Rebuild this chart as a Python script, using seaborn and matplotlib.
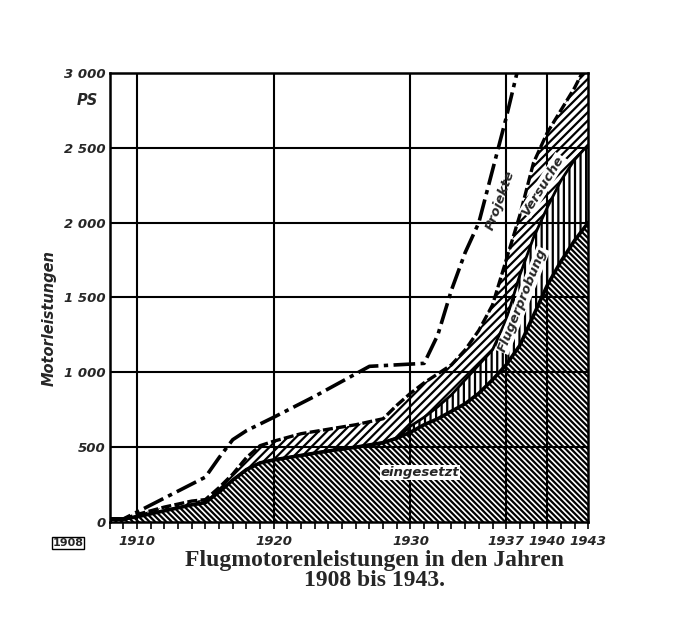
import numpy as np
import pandas as pd
import seaborn as sns
import matplotlib.pyplot as plt
from matplotlib.ticker import FixedLocator, MultipleLocator

# values (PS per year)
years = [1908, 1909, 1910, 1912, 1914, 1915, 1916, 1917, 1918, 1919, 1920, 1922, 1924, 1926, 1928,
         1929, 1930, 1931, 1932, 1933, 1934, 1935, 1936, 1937, 1938, 1939, 1940, 1941, 1942, 1943]
eingesetzt = [20, 20, 35, 75, 115, 130, 200, 280, 350, 395, 415, 445, 475, 500, 530,
              560, 600, 650, 690, 740, 790, 860, 950, 1050, 1180, 1380, 1580, 1740, 1880, 2000]
flugerprobung = [20, 20, 35, 75, 115, 130, 200, 280, 350, 395, 415, 445, 475, 500, 530,
                 560, 640, 700, 770, 850, 950, 1050, 1150, 1350, 1650, 1900, 2100, 2280, 2420, 2520]
versuche = [20, 20, 50, 100, 140, 150, 230, 320, 430, 510, 540, 590, 620, 650, 690,
            780, 860, 930, 990, 1050, 1150, 1280, 1450, 1750, 2050, 2400, 2600, 2750, 2900, 3080]

projekte_years = [1908, 1909, 1915, 1916, 1917, 1918, 1920, 1923, 1927, 1931, 1932, 1933, 1934, 1935, 1936, 1937, 1938]
projekte = [20, 20, 300, 430, 550, 610, 700, 840, 1040, 1060, 1250, 1550, 1800, 2000, 2350, 2700, 3080]

x_ticks = [1910, 1920, 1930, 1937, 1940, 1943]
y_ticks = [0, 500, 1000, 1500, 2000, 2500, 3000]
y_labels = ['0', '500', '1 000', '1 500', '2 000', '2 500', '3 000']

df = pd.DataFrame({'jahr': years, 'eingesetzt': eingesetzt,
                   'flugerprobung': flugerprobung, 'versuche': versuche})
df_p = pd.DataFrame({'jahr': projekte_years, 'projekte': projekte})

sns.set_style('white')
plt.rcParams['font.family'] = ['DejaVu Sans']
plt.rcParams['hatch.linewidth'] = 1.6
plt.rcParams['hatch.color'] = 'black'

BS = chr(92)  # backslash, for the hatch pattern

fig = plt.figure(figsize=(6.73, 6.37), dpi=100)
ax = fig.add_axes([0.163, 0.1805, 0.711, 0.705])

x = df['jahr']
# hatched bands
ax.fill_between(x, 0, df['eingesetzt'], facecolor='white', edgecolor='black',
                hatch=BS * 6, linewidth=0, zorder=2)
ax.fill_between(x, df['eingesetzt'], df['flugerprobung'], facecolor='white', edgecolor='black',
                hatch='|||', linewidth=0, zorder=2)
ax.fill_between(x, df['flugerprobung'], df['versuche'], facecolor='white', edgecolor='black',
                hatch='////', linewidth=0, zorder=2)

# grid drawn over the hatching, as printed
for gx in [1910, 1920, 1930, 1937, 1940]:
    ax.axvline(gx, color='black', lw=1.5, zorder=3)
for gy in [500, 1000, 1500, 2000, 2500]:
    ax.axhline(gy, color='black', lw=1.5, zorder=3)

sns.lineplot(data=df, x='jahr', y='eingesetzt', color='black', lw=2.6, ax=ax, zorder=4)
sns.lineplot(data=df, x='jahr', y='flugerprobung', color='black', lw=2.0, ax=ax, zorder=4)
sns.lineplot(data=df, x='jahr', y='versuche', color='black', lw=2.4, ax=ax, zorder=4,
             linestyle=(0, (3, 1)))
sns.lineplot(data=df_p, x='jahr', y='projekte', color='black', lw=2.6, ax=ax, zorder=4,
             linestyle=(0, (6, 1.5, 1.2, 1.5)))

ax.set_xlim(1908, 1943)
ax.set_ylim(0, 3000)

tick_font = dict(fontsize=9.5, fontweight='bold', fontstyle='italic')
ax.xaxis.set_major_locator(FixedLocator(x_ticks))
ax.xaxis.set_minor_locator(MultipleLocator(1))
ax.set_xticklabels([str(t) for t in x_ticks], **tick_font)
ax.set_yticks(y_ticks)
ax.set_yticklabels(y_labels, **tick_font)
ax.tick_params(axis='x', which='both', direction='out', length=5, width=1.4, bottom=True, pad=4)
ax.tick_params(axis='y', which='both', length=0, pad=3)

for s in ax.spines.values():
    s.set_visible(True)
    s.set_color('black')
    s.set_linewidth(1.8)

ax.set_xlabel('')
ax.set_ylabel('Motorleistungen', fontsize=10.5, fontweight='bold', fontstyle='italic')
ax.yaxis.set_label_coords(-0.11, 0.455)

ax.text(-0.025, 0.955, 'PS', transform=ax.transAxes, ha='right', va='top',
        fontsize=10.5, fontweight='bold', fontstyle='italic')
ax.text(-0.12, -0.047, '1908', transform=ax.transAxes, ha='left', va='center',
        fontsize=8, fontweight='bold',
        bbox=dict(facecolor='white', edgecolor='black', lw=1.0, pad=0.6))

label_font = dict(fontsize=9.5, fontweight='bold', fontstyle='italic', zorder=6,
                  ha='center', va='center')
ax.text(1936.6, 2150, 'Projekte', rotation=70, **label_font)
ax.text(1939.7, 2250, 'Versuche', rotation=58,
        bbox=dict(facecolor='white', edgecolor='none', pad=0.5), **label_font)
ax.text(1938.2, 1480, 'Flugerprobung', rotation=68,
        bbox=dict(facecolor='white', edgecolor='none', pad=0.5), **label_font)
ax.text(1930.7, 330, 'eingesetzt', rotation=0,
        bbox=dict(facecolor='white', edgecolor='none', pad=0.8), **label_font)

fig.text(0.557, 0.136, 'Flugmotorenleistungen in den Jahren\n1908 bis 1943.',
         ha='center', va='top', fontsize=17, fontweight='bold',
         family=['Liberation Serif', 'DejaVu Serif'], linespacing=0.9)

fig.savefig('out.png', dpi=100)
